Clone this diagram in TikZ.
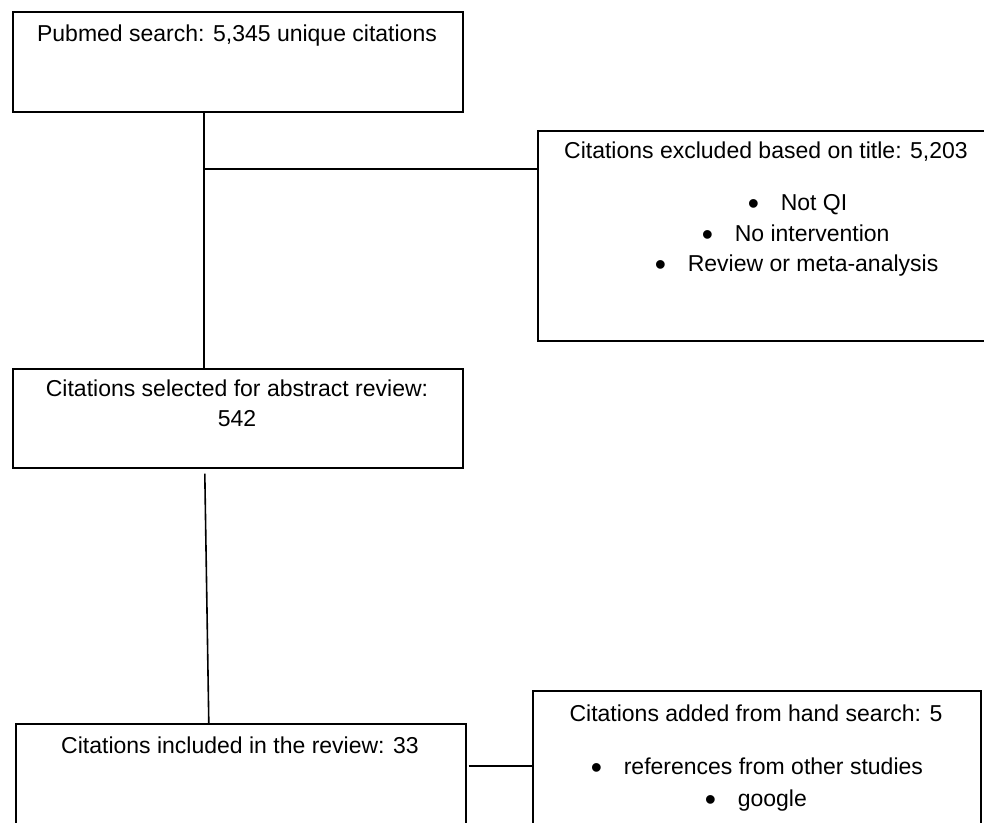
\documentclass[tikz,border=0pt]{standalone}
\usepackage{fontspec}
\setmainfont{Liberation Sans}
\newcommand{\bigbullet}{\makebox[33pt][l]{\raisebox{-4pt}{\fontsize{32}{32}\selectfont\textbullet}}}
\begin{document}
\begin{tikzpicture}[x=1pt, y=-1pt, line width=1.6pt,
    box/.style={draw, anchor=north west, inner sep=0pt},
    txt/.style={inner sep=0pt, anchor=base, font=\fontsize{23}{28}\selectfont},
    item/.style={txt, anchor=base west}]
    \useasboundingbox (0,0) rectangle (984,822);
    \clip (0,0) rectangle (984,822);

    % boxes
    \node[box, minimum width=450pt, minimum height=100pt] (search) at (12,11) {};
    \node[box, minimum width=458pt, minimum height=210pt] (excl) at (537,130) {};
    \node[box, minimum width=450pt, minimum height=99pt] (select) at (12,368) {};
    \node[box, minimum width=450pt, minimum height=120pt] (incl) at (15,723) {};
    \node[box, minimum width=448pt, minimum height=150pt] (hand) at (532,690) {};

    % texts
    \node[txt] (searchtxt) at (237,41) {Pubmed search: 5,345 unique citations};
    \node[txt] (excltxt) at (766,158) {Citations excluded based on title: 5,203};
    \foreach \bx/\by/\t [count=\i] in {747/210/Not QI, 701/241/No intervention, 654/271/Review or meta-analysis}
        \node[item] (excl\i) at (\bx,\by) {\bigbullet\t};
    \node[txt] (selecttxt) at (237,396) {Citations selected for abstract review:};
    \node[txt] (selectnum) at (237,426) {542};
    \node[txt] (incltxt) at (240,753) {Citations included in the review: 33};
    \node[txt] (handtxt) at (756,721) {Citations added from hand search: 5};
    \foreach \bx/\by/\t [count=\i] in {590/774/references from other studies, 704/806/google}
        \node[item] (hand\i) at (\bx,\by) {\bigbullet\t};

    % connectors
    \coordinate (split) at (204,169);
    \draw (search.south -| split) -- (select.north -| split);
    \draw (split) -- (split -| excl.west);
    \draw ([xshift=-33pt, yshift=-5pt]select.south) -- ([xshift=-32pt]incl.north);
    \draw ([xshift=2pt]incl.east |- hand.west) -- (hand.west);
\end{tikzpicture}
\end{document}
